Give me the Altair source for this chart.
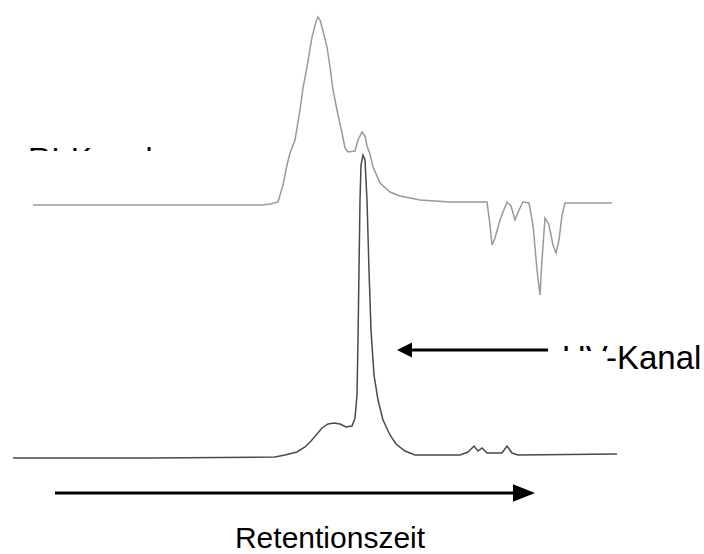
import altair as alt
import pandas as pd

# Retention time (min) and detector signal (arbitrary units)
ri_time = [1.65, 7.5, 13.1, 13.5, 13.9, 14.15, 14.35, 14.5, 14.75, 15.0, 15.15, 15.35, 15.6, 15.8,
           15.9, 16.0, 16.1, 16.35, 16.5, 16.65, 16.85, 17.1, 17.25, 17.4, 17.75, 17.9, 18.1, 18.25,
           18.35, 18.5, 18.65, 19.0, 19.5, 20.0, 21.0, 22.5, 24.35, 24.5, 24.6, 24.75, 25.0, 25.15,
           25.35, 25.55, 25.75, 25.95, 26.15, 26.45, 26.65, 26.85, 27.0, 27.1, 27.25, 27.45, 27.65,
           27.8, 27.95, 28.1, 28.25, 30.6]
ri_signal = [349, 349, 349, 350, 352, 369, 389, 401, 414, 444, 466, 487, 517, 532,
             537, 534, 527, 507, 487, 464, 444, 421, 406, 402, 403, 414, 422, 418,
             408, 400, 387, 371, 362, 358, 354, 352, 352, 329, 309, 316, 334, 342,
             352, 348, 334, 344, 352, 351, 329, 284, 259, 294, 336, 329, 309,
             301, 314, 339, 351, 351]

uv_time = [0.65, 7.5, 13.75, 14.25, 14.85, 15.25, 15.55, 15.85, 16.1, 16.4, 16.7, 17.0, 17.3,
           17.6, 17.75, 17.85, 17.9, 17.95, 18.0, 18.05, 18.15, 18.25, 18.35, 18.45, 18.55,
           18.7, 18.9, 19.15, 19.5, 19.8, 20.25, 20.75, 23.0, 23.4, 23.7, 23.9, 24.1, 24.35,
           25.1, 25.35, 25.6, 25.9, 30.85]
uv_signal = [96, 96, 97, 99, 102, 107, 113, 120, 126, 130, 131, 130, 127,
             128, 136, 159, 214, 284, 354, 389, 399, 394, 354, 284, 224,
             179, 154, 134, 119, 110, 103, 99, 99, 102, 108, 103, 106, 101,
             101, 108, 101, 99, 100]

label_text = ["RI-Kanal", "UV-Kanal", "Retentionszeit"]
label_time = [1.4, 28.1, 16.5]
label_signal = [384, 185, 6]
label_align = ["left", "left", "center"]

arrow_start = [20.6, 2.75]
arrow_end = [27.4, 25.65]
arrow_level = [204, 61]

mask_t1 = [1.0, 28.0]
mask_t2 = [13.0, 30.25]
mask_s1 = [403, 203]
mask_s2 = [379, 182]

xs = alt.Scale(domain=[0, 35.2])
ys = alt.Scale(domain=[0, 554])

ri_df = pd.DataFrame({"t": ri_time, "s": ri_signal})
uv_df = pd.DataFrame({"t": uv_time, "s": uv_signal})
lab_df = pd.DataFrame({"t": label_time, "s": label_signal, "txt": label_text, "al": label_align})
arr_df = pd.DataFrame({"t1": arrow_start, "t2": arrow_end, "s": arrow_level})
mask_df = pd.DataFrame({"t1": mask_t1, "t2": mask_t2, "s1": mask_s1, "s2": mask_s2})

X = lambda f: alt.X(f, scale=xs, axis=None)
Y = lambda f: alt.Y(f, scale=ys, axis=None)

ri = alt.Chart(ri_df).mark_line(color="#999999", strokeWidth=1.5).encode(x=X("t:Q"), y=Y("s:Q"))
uv = alt.Chart(uv_df).mark_line(color="#4a4a4a", strokeWidth=1.5).encode(x=X("t:Q"), y=Y("s:Q"))

arrows = alt.Chart(arr_df).mark_rule(color="black", strokeWidth=3).encode(
    x=X("t1:Q"), x2="t2:Q", y=Y("s:Q"))

head_left = alt.Chart(pd.DataFrame({"t": [20.225], "s": [204]})).mark_point(
    shape="M -1 0 L 1 -1 L 1 1 Z", size=225, filled=True, color="black", opacity=1, strokeWidth=0
).encode(x=X("t:Q"), y=Y("s:Q"))
head_right = alt.Chart(pd.DataFrame({"t": [26.2], "s": [61]})).mark_point(
    shape="M -1 -0.8 L 1 0 L -1 0.8 Z", size=484, filled=True, color="black", opacity=1, strokeWidth=0
).encode(x=X("t:Q"), y=Y("s:Q"))

txt_ri = alt.Chart(lab_df[lab_df.txt == "RI-Kanal"]).mark_text(
    align="left", baseline="alphabetic", font="Liberation Sans", fontSize=32, color="black"
).encode(x=X("t:Q"), y=Y("s:Q"), text="txt:N")
txt_uv = alt.Chart(lab_df[lab_df.txt == "UV-Kanal"]).mark_text(
    align="left", baseline="alphabetic", font="Liberation Sans", fontSize=33, color="black"
).encode(x=X("t:Q"), y=Y("s:Q"), text="txt:N")
txt_center = alt.Chart(lab_df[lab_df.al == "center"]).mark_text(
    align="center", baseline="alphabetic", font="Liberation Sans", fontSize=30, color="black"
).encode(x=X("t:Q"), y=Y("s:Q"), text="txt:N")

masks = alt.Chart(mask_df).mark_rect(color="white", opacity=1).encode(
    x=X("t1:Q"), x2="t2:Q", y=Y("s1:Q"), y2="s2:Q")

chart = alt.layer(ri, uv, arrows, head_left, head_right, txt_ri, txt_uv, txt_center, masks).properties(
    width=704, height=554, padding=0, autosize=alt.AutoSizeParams(type="none"), background="white"
).configure_view(stroke=None)

chart.save("out.html", embed_options={"renderer": "svg", "actions": False})
